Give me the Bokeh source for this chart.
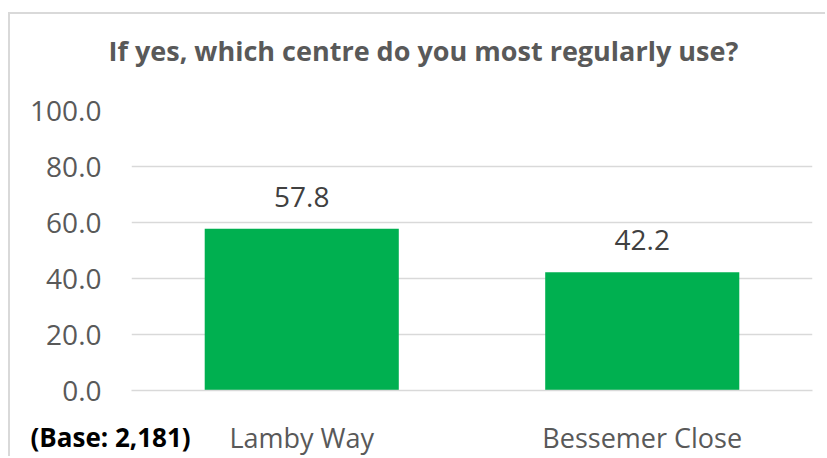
from bokeh.plotting import figure
from bokeh.models import ColumnDataSource, Title, FixedTicker, CustomJSTickFormatter
from bokeh.core.properties import value
from bokeh.embed import file_html
from bokeh.resources import INLINE

categories = ["Lamby Way", "Bessemer Close"]
values = [57.8, 42.2]
value_labels = ["57.8", "42.2"]
y_ticks = [0, 20, 40, 60, 80, 100]
title_text = "If yes, which centre do you most regularly use?"
base_text = "(Base: 2,181)"

FONT = "Open Sans"
W, H = 817, 444
ML, MT = 121, 96

p = figure(x_range=categories, y_range=(0, 100), width=W, height=H,
           output_backend="svg", toolbar_location=None,
           min_border_left=ML, min_border_right=W - ML - 681,
           min_border_top=MT, min_border_bottom=H - MT - 281)
p.outline_line_color = None
p.background_fill_color = "white"
p.border_fill_color = "white"
p.styles = {"border-left": "2px solid #d9d9d9", "border-top": "2px solid #d9d9d9",
            "margin-left": "8px", "margin-top": "12px"}

# spacer between the frame and the chart title
p.add_layout(Title(text=" ", text_font_size="2px", standoff=33), "above")

p.title.text = title_text
p.title.align = "left"
p.title.offset = -23
p.title.standoff = 10
p.title.text_font = FONT
p.title.text_font_style = "bold"
p.title.text_font_size = "27px"
p.title.text_color = "#595959"

src = ColumnDataSource(dict(cat=categories, val=values, lab=value_labels))
p.vbar(x="cat", top="val", width=0.57, source=src, fill_color="#00b050", line_color=None)
p.text(x="cat", y="val", text="lab", source=src, text_align="center",
       text_baseline="alphabetic", y_offset=-32, text_font=value(FONT),
       text_font_size="28px", text_color="#404040")

p.yaxis.ticker = FixedTicker(ticks=y_ticks)
p.yaxis.formatter = CustomJSTickFormatter(code="return tick.toFixed(1);")
p.yaxis.axis_line_color = None
p.yaxis.major_tick_line_color = None
p.yaxis.minor_tick_line_color = None
p.yaxis.major_label_standoff = 24
p.yaxis.major_label_text_font = FONT
p.yaxis.major_label_text_font_size = "28px"
p.yaxis.major_label_text_color = "#595959"

p.xaxis.axis_line_color = "#d9d9d9"
p.xaxis.axis_line_width = 1.5
p.xaxis.major_tick_line_color = None
p.xaxis.minor_tick_line_color = None
p.xaxis.major_label_standoff = 22
p.xaxis.major_label_text_font = FONT
p.xaxis.major_label_text_font_size = "27px"
p.xaxis.major_label_text_color = "#595959"

p.xgrid.grid_line_color = None
p.ygrid.grid_line_color = "#d9d9d9"
p.ygrid.grid_line_width = 1.5

p.add_layout(Title(text=base_text, align="left", vertical_align="top", offset=-101,
                   standoff=-80, text_font=FONT, text_font_style="bold",
                   text_font_size="26px", text_color="#000000"), "below")

open("out.html", "w").write(file_html(p, INLINE))
